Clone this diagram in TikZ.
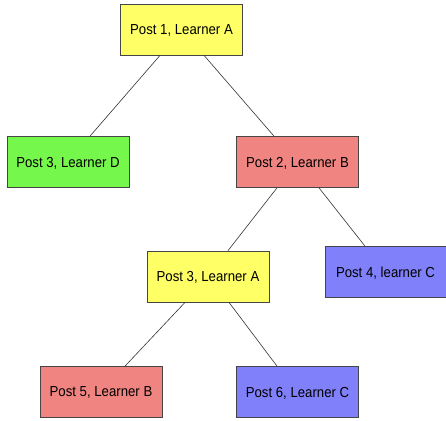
\documentclass[tikz,border=0pt]{standalone}
\usepackage{fontspec}
\setmainfont{Liberation Sans}[FakeStretch=0.91]
\definecolor{postyellow}{RGB}{255,255,102}
\definecolor{postgreen}{RGB}{118,247,76}
\definecolor{postred}{RGB}{240,132,128}
\definecolor{postblue}{RGB}{128,128,250}
\definecolor{edgegray}{RGB}{70,70,70}
\begin{document}
\begin{tikzpicture}[x=1pt,y=-1pt,
  post/.style={draw=edgegray,line width=0.7pt,inner sep=0pt,
    minimum width=122pt,minimum height=51pt,text depth=0pt,
    font=\fontsize{14.5}{17}\selectfont},
  link/.style={draw=black!80,line width=0.6pt}]
\useasboundingbox (0,0) rectangle (446,420);
% posts
\node[post,fill=postyellow] (p1)  at (181.5,29.5) {Post 1, Learner A};
\node[post,fill=postgreen]  (p3d) at (68,162)     {Post 3, Learner D};
\node[post,fill=postred]    (p2)  at (297.5,162)  {Post 2, Learner B};
\node[post,fill=postyellow] (p3a) at (208,276.5)  {Post 3, Learner A};
\node[post,fill=postblue,minimum width=121pt] (p4) at (385.5,272) {Post 4, learner C};
\node[post,fill=postred]    (p5)  at (101,392)    {Post 5, Learner B};
\node[post,fill=postblue]   (p6)  at (297.5,392)  {Post 6, Learner C};
% replies
\draw[link] ([xshift=-21.5pt]p1.south) -- ([xshift=22pt]p3d.north);
\draw[link] ([xshift=22.5pt]p1.south)  -- ([xshift=-23.5pt]p2.north);
\draw[link] ([xshift=-20.5pt]p2.south) -- ([xshift=20pt]p3a.north);
\draw[link] ([xshift=21.5pt]p2.south)  -- ([xshift=-20.5pt]p4.north);
\draw[link] ([xshift=-23pt]p3a.south)  -- ([xshift=24pt]p5.north);
\draw[link] ([xshift=21pt]p3a.south)   -- ([xshift=-20.5pt]p6.north);
\end{tikzpicture}
\end{document}
